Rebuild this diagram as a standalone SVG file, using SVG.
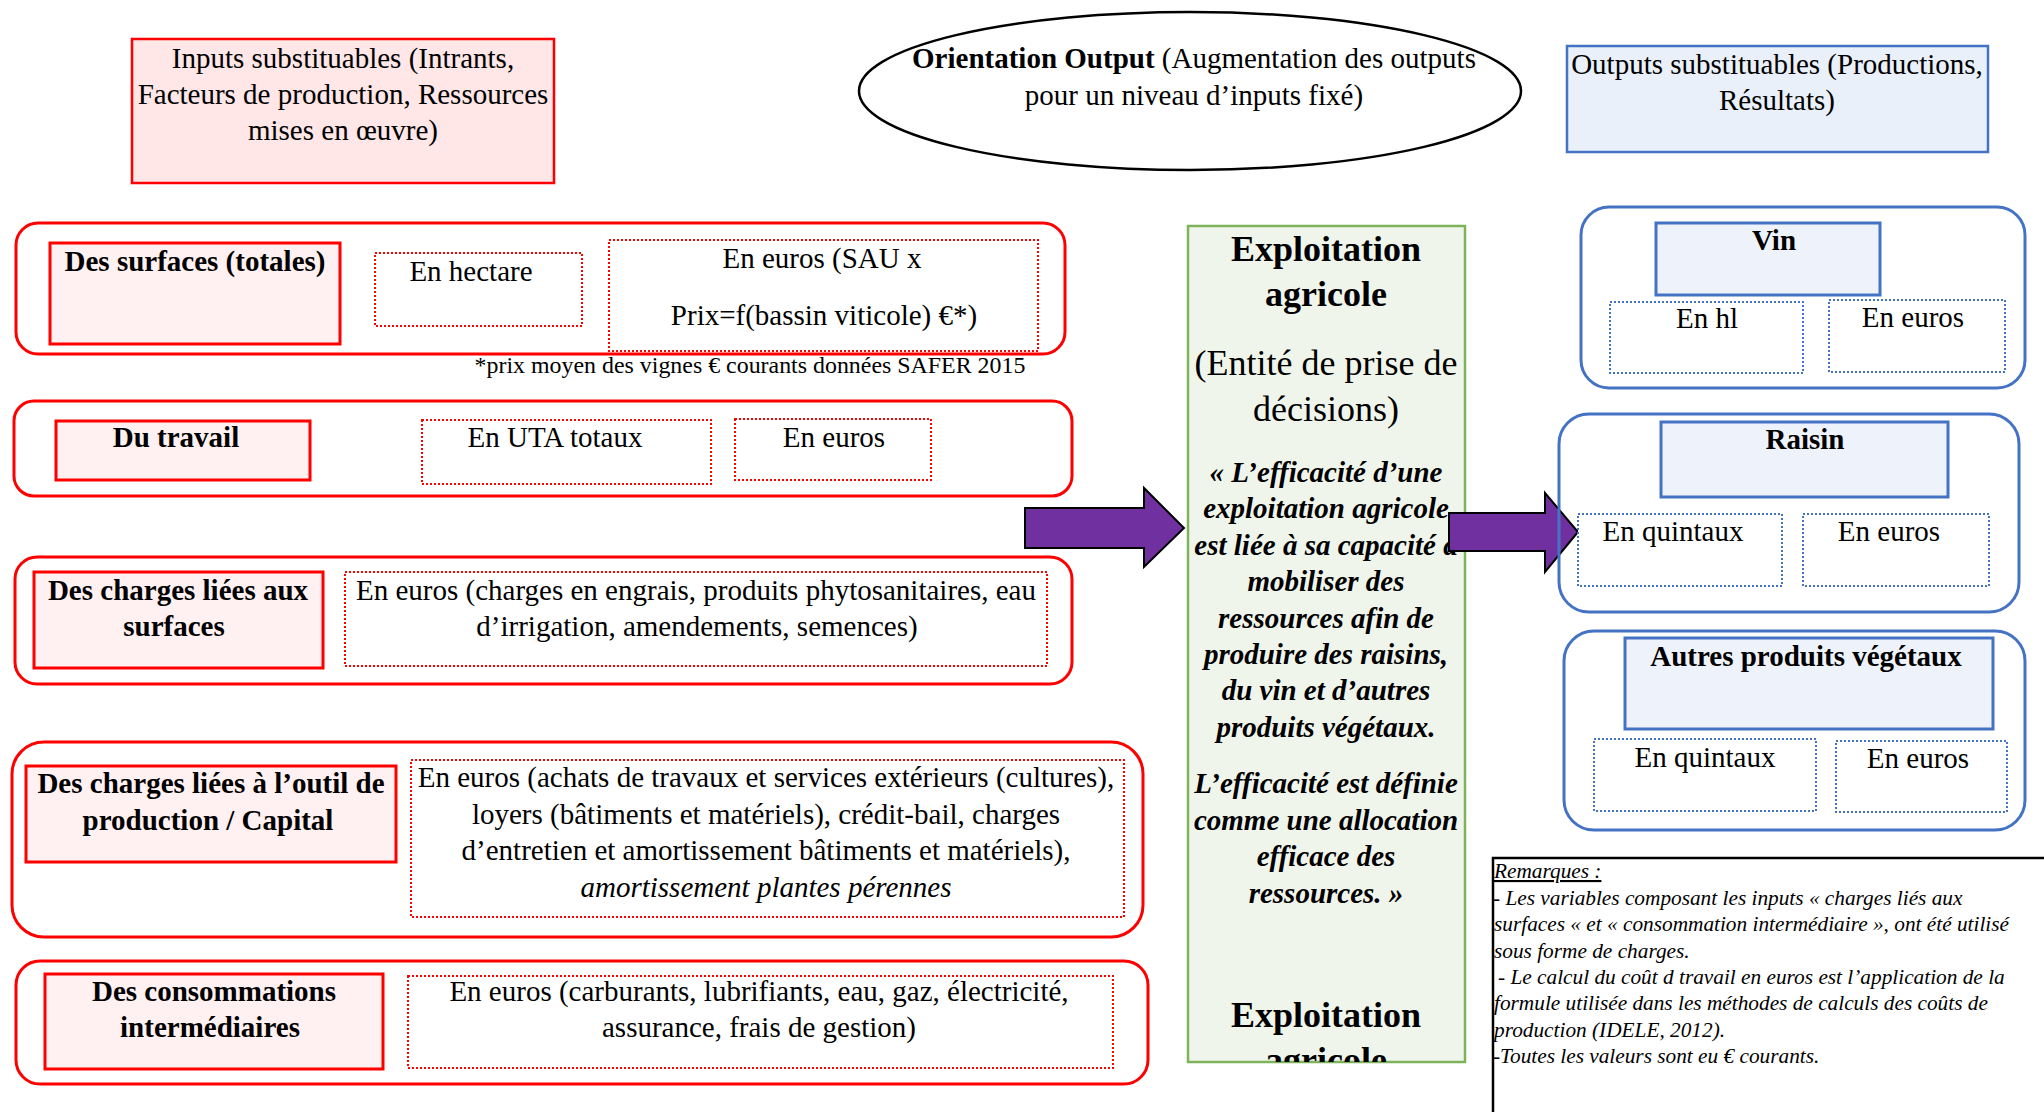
<svg xmlns="http://www.w3.org/2000/svg" width="2044" height="1112" viewBox="0 0 2044 1112">
<defs>
<style>
text{font-family:"Liberation Serif","Times New Roman",serif;font-size:29px;fill:#000;text-anchor:middle}
.b{font-weight:bold}
.i{font-style:italic}
.big{font-size:36px}
.note{font-size:23.9px}
.rem{font-size:21.3px;font-style:italic;text-anchor:start}
.oR{fill:#fff;stroke:#ff0000;stroke-width:3}
.tR{fill:#fff1f1;stroke:#ff0000;stroke-width:3}
.dR{fill:#fff;stroke:#ff0000;stroke-width:2;stroke-dasharray:2 2}
.oB{fill:none;stroke:#4472c4;stroke-width:3}
.tB{fill:#eef3fb;stroke:#4472c4;stroke-width:3}
.dB{fill:#fff;stroke:#4472c4;stroke-width:2;stroke-dasharray:2 2}
.arr{fill:#7030a0;stroke:#000;stroke-width:2;stroke-linejoin:miter}
</style>
<clipPath id="gclip"><rect x="1188" y="226" width="277" height="836"/></clipPath>
</defs>
<rect width="2044" height="1112" fill="#fff"/>

<g id="inputs">
<rect x="132" y="39" width="422" height="144" fill="#ffe6e7" stroke="#ff0000" stroke-width="2.5"/>
<text x="343" y="68">Inputs substituables (Intrants,</text>
<text x="343" y="104">Facteurs de production, Ressources</text>
<text x="343" y="140">mises en œuvre)</text>
</g>

<g id="orientation">
<ellipse cx="1190" cy="91" rx="331" ry="79" fill="#fff" stroke="#000" stroke-width="2.5"/>
<text x="1194" y="68"><tspan class="b">Orientation Output</tspan> (Augmentation des outputs</text>
<text x="1194" y="105">pour un niveau d’inputs fixé)</text>
</g>

<g id="outputs">
<rect x="1567" y="46" width="421" height="106" fill="#e9f0fa" stroke="#4472c4" stroke-width="2.5"/>
<text x="1777" y="74">Outputs substituables (Productions,</text>
<text x="1777" y="110">Résultats)</text>
</g>

<g id="surfaces">
<rect class="oR" x="16" y="223" width="1049" height="131" rx="22"/>
<rect class="tR" x="50" y="243" width="290" height="101"/>
<text class="b" x="195" y="271">Des surfaces (totales)</text>
<rect class="dR" x="375" y="253" width="207" height="73"/>
<text x="471" y="281">En hectare</text>
<rect class="dR" x="609" y="240" width="429" height="111"/>
<text x="822" y="268">En euros (SAU x</text>
<text x="824" y="325">Prix=f(bassin viticole) €*)</text>
<text class="note" x="750" y="373">*prix moyen des vignes € courants données SAFER 2015</text>
</g>

<g id="travail">
<rect class="oR" x="14" y="401" width="1058" height="95" rx="20"/>
<rect class="tR" x="56" y="421" width="254" height="59"/>
<text class="b" x="176" y="447">Du travail</text>
<rect class="dR" x="422" y="420" width="289" height="64"/>
<text x="555" y="447">En UTA totaux</text>
<rect class="dR" x="735" y="419" width="196" height="61"/>
<text x="834" y="447">En euros</text>
</g>

<g id="charges-surfaces">
<rect class="oR" x="15" y="557" width="1057" height="127" rx="22"/>
<rect class="tR" x="34" y="572" width="289" height="96"/>
<text class="b" x="178" y="600">Des charges liées aux</text>
<text class="b" x="174" y="636">surfaces</text>
<rect class="dR" x="345" y="572" width="702" height="94"/>
<text x="696" y="600">En euros (charges en engrais, produits phytosanitaires, eau</text>
<text x="697" y="636">d’irrigation, amendements, semences)</text>
</g>

<g id="charges-capital">
<rect class="oR" x="12" y="742" width="1131" height="195" rx="32"/>
<rect class="tR" x="26" y="766" width="370" height="96"/>
<text class="b" x="211" y="793">Des charges liées à l’outil de</text>
<text class="b" x="208" y="830">production / Capital</text>
<rect class="dR" x="411" y="760" width="713" height="157"/>
<text x="766" y="787">En euros (achats de travaux et services extérieurs (cultures),</text>
<text x="766" y="824">loyers (bâtiments et matériels), crédit-bail, charges</text>
<text x="766" y="860">d’entretien et amortissement bâtiments et matériels),</text>
<text class="i" x="766" y="897">amortissement plantes pérennes</text>
</g>

<g id="consommations">
<rect class="oR" x="16" y="961" width="1132" height="123" rx="24"/>
<rect class="tR" x="45" y="974" width="338" height="95"/>
<text class="b" x="214" y="1001">Des consommations</text>
<text class="b" x="210" y="1037">intermédiaires</text>
<rect class="dR" x="408" y="976" width="705" height="92"/>
<text x="759" y="1001">En euros (carburants, lubrifiants, eau, gaz, électricité,</text>
<text x="759" y="1037">assurance, frais de gestion)</text>
</g>

<g id="exploitation">
<rect x="1188" y="226" width="277" height="836" fill="#f0f5ec" stroke="#7db35a" stroke-width="2.5"/>
<g clip-path="url(#gclip)">
<text class="b big" x="1326" y="261">Exploitation</text>
<text class="b big" x="1326" y="306">agricole</text>
<text class="big" x="1326" y="375">(Entité de prise de</text>
<text class="big" x="1326" y="421">décisions)</text>
<text class="b i" x="1326" y="482">« L’efficacité d’une</text>
<text class="b i" x="1326" y="518">exploitation agricole</text>
<text class="b i" x="1326" y="555">est liée à sa capacité à</text>
<text class="b i" x="1326" y="591">mobiliser des</text>
<text class="b i" x="1326" y="628">ressources afin de</text>
<text class="b i" x="1326" y="664">produire des raisins,</text>
<text class="b i" x="1326" y="700">du vin et d’autres</text>
<text class="b i" x="1326" y="737">produits végétaux.</text>
<text class="b i" x="1326" y="793">L’efficacité est définie</text>
<text class="b i" x="1326" y="830">comme une allocation</text>
<text class="b i" x="1326" y="866">efficace des</text>
<text class="b i" x="1326" y="903">ressources. »</text>
<text class="b big" x="1326" y="1027">Exploitation</text>
<text class="b big" x="1326" y="1072">agricole</text>
</g>
</g>

<g id="connectors">
<polygon class="arr" points="1025,508 1144,508 1144,488 1184,528 1144,567 1144,548 1025,548"/>
<polygon class="arr" points="1449,513 1545,513 1545,493 1578,532 1545,572 1545,551 1449,551"/>
</g>

<g id="vin">
<rect class="oB" x="1581" y="207" width="444" height="181" rx="28"/>
<rect class="tB" x="1656" y="223" width="224" height="72"/>
<text class="b" x="1774" y="250">Vin</text>
<rect class="dB" x="1610" y="302" width="193" height="71"/>
<text x="1707" y="328">En hl</text>
<rect class="dB" x="1829" y="300" width="176" height="72"/>
<text x="1913" y="327">En euros</text>
</g>

<g id="raisin">
<rect class="oB" x="1559" y="414" width="460" height="198" rx="30"/>
<rect class="tB" x="1661" y="422" width="287" height="75"/>
<text class="b" x="1805" y="449">Raisin</text>
<rect class="dB" x="1578" y="514" width="204" height="72"/>
<text x="1673" y="541">En quintaux</text>
<rect class="dB" x="1803" y="514" width="186" height="72"/>
<text x="1889" y="541">En euros</text>
</g>

<g id="autres">
<rect class="oB" x="1564" y="631" width="461" height="199" rx="30"/>
<rect class="tB" x="1625" y="638" width="368" height="91"/>
<text class="b" x="1806" y="666">Autres produits végétaux</text>
<rect class="dB" x="1594" y="739" width="222" height="72"/>
<text x="1705" y="767">En quintaux</text>
<rect class="dB" x="1836" y="741" width="171" height="71"/>
<text x="1918" y="768">En euros</text>
</g>

<g id="remarques">
<rect x="1493" y="858" width="600" height="300" fill="#fff" stroke="#000" stroke-width="2.5"/>
<text class="rem" x="1494" y="878" text-decoration="underline">Remarques : </text>
<text class="rem" x="1493" y="905">- Les variables composant les inputs « charges liés aux</text>
<text class="rem" x="1494" y="931">surfaces « et « consommation intermédiaire », ont été utilisé</text>
<text class="rem" x="1494" y="958">sous forme de charges.</text>
<text class="rem" x="1498" y="984">- Le calcul du coût d travail en euros est l’application de la</text>
<text class="rem" x="1494" y="1010">formule utilisée dans les méthodes de calculs des coûts de</text>
<text class="rem" x="1494" y="1037">production (IDELE, 2012).</text>
<text class="rem" x="1493" y="1063">-Toutes les valeurs sont eu € courants.</text>
</g>
</svg>
